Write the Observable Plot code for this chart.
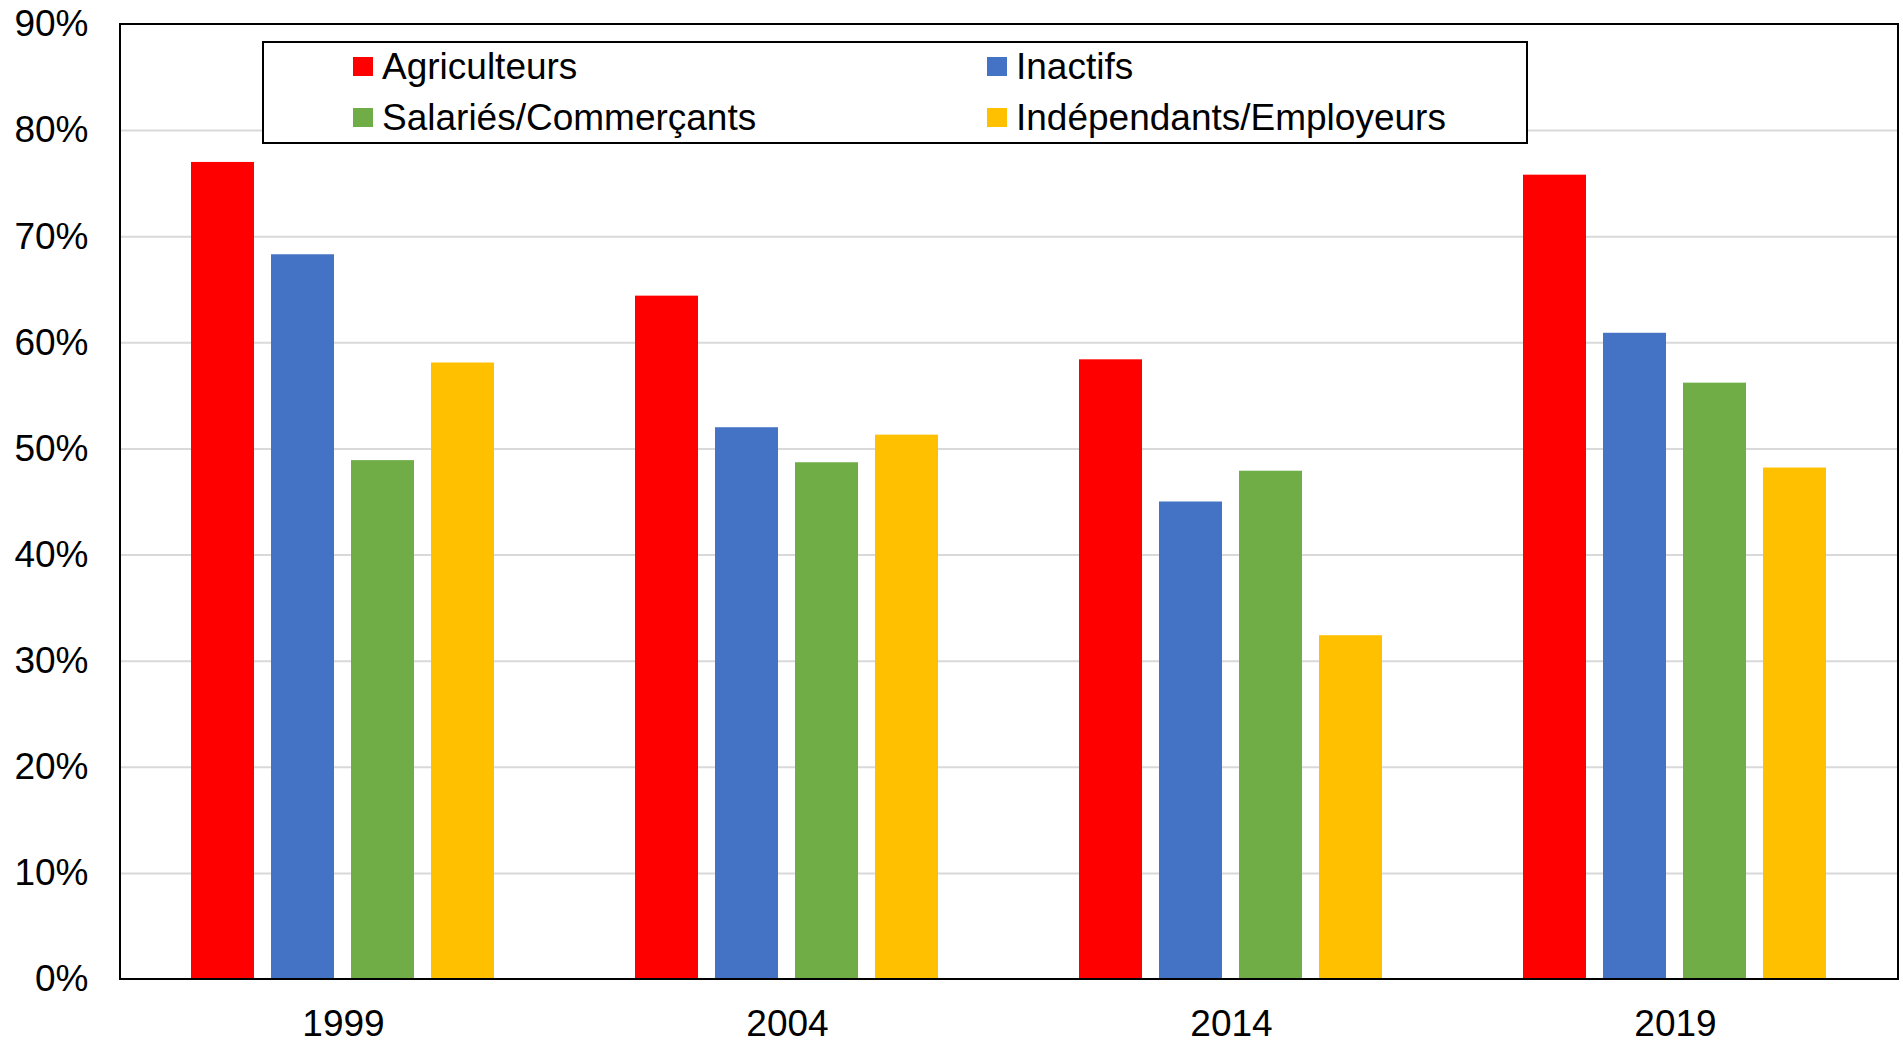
<!DOCTYPE html>
<html>
<head>
<meta charset="utf-8">
<script src="https://cdn.jsdelivr.net/npm/d3@7"></script>
<script src="https://cdn.jsdelivr.net/npm/@observablehq/plot@0.6"></script>
<style>
  html, body { margin: 0; padding: 0; background: #fff; }
  #wrap { position: relative; width: 1903px; height: 1043px; font-family: "Liberation Sans", Arial, sans-serif; }
  #legend { position: absolute; left: 262px; top: 41px; width: 1266px; height: 103px; box-sizing: border-box; border: 2px solid #000; background: #fff; }
  .item { position: absolute; display: flex; align-items: center; height: 37px; font-size: 37px; line-height: 37px; color: #000; white-space: nowrap; }
  .sw { width: 20px; height: 19px; margin-right: 9px; flex: none; }
</style>
</head>
<body>
<div id="wrap"></div>
<script>
const years = ["1999", "2004", "2014", "2019"];
const categories = ["Agriculteurs", "Inactifs", "Salariés/Commerçants", "Indépendants/Employeurs"];
const colors = ["#FF0000", "#4472C4", "#70AD47", "#FFC000"];
const agriculteurs = [77.0, 64.4, 58.4, 75.8];
const inactifs = [68.3, 52.0, 45.0, 60.9];
const salaries = [48.9, 48.7, 47.9, 56.2];
const independants = [58.1, 51.3, 32.4, 48.2];
const yTicks = [0, 10, 20, 30, 40, 50, 60, 70, 80, 90];
const gridTicks = [10, 20, 30, 40, 50, 60, 70, 80];

const series = [agriculteurs, inactifs, salaries, independants];
const data = [];
years.forEach((yr, i) => categories.forEach((c, j) => data.push({year: yr, cat: c, value: series[j][i]})));

const plot = Plot.plot({
  width: 1903,
  height: 1043,
  marginLeft: 120,
  marginRight: 5,
  marginTop: 24,
  marginBottom: 64,
  style: {fontFamily: "Liberation Sans, Arial, sans-serif", fontSize: "37px", color: "#000", background: "#fff"},
  fx: {domain: years, padding: 0, label: null},
  x: {domain: categories, paddingInner: 0.207, paddingOuter: 0.857, axis: null},
  y: {domain: [0, 90], label: null},
  color: {domain: categories, range: colors},
  marks: [
    Plot.gridY(gridTicks, {stroke: "#d9d9d9", strokeOpacity: 1, strokeWidth: 2}),
    Plot.barY(data, {fx: "year", x: "cat", y: "value", fill: "cat", inset: 0}),
    Plot.axisY({ticks: yTicks, tickFormat: d => d + "%", tickSize: 0, tickPadding: 33, fontSize: 37, label: null}),
    Plot.axisFx({anchor: "bottom", tickSize: 0, tickPadding: 30, fontSize: 37, label: null})
  ]
});

const fxr = plot.scale("fx").range;
const yr = plot.scale("y").range;
const svg = d3.select(plot);
svg.append("rect")
  .attr("x", Math.min(...fxr))
  .attr("y", Math.min(...yr))
  .attr("width", Math.abs(fxr[1] - fxr[0]))
  .attr("height", Math.abs(yr[1] - yr[0]))
  .attr("fill", "none")
  .attr("stroke", "#000")
  .attr("stroke-width", 2);

const wrap = document.getElementById("wrap");
wrap.appendChild(plot);

const legend = document.createElement("div");
legend.id = "legend";
const colLeft = [89, 723];
const rowTop = [5, 55.5];
categories.forEach((c, j) => {
  const item = document.createElement("div");
  item.className = "item";
  item.style.left = colLeft[j % 2] + "px";
  item.style.top = rowTop[Math.floor(j / 2)] + "px";
  const sw = document.createElement("span");
  sw.className = "sw";
  sw.style.background = colors[j];
  const t = document.createElement("span");
  t.textContent = c;
  item.appendChild(sw);
  item.appendChild(t);
  legend.appendChild(item);
});
wrap.appendChild(legend);
</script>
</body>
</html>
